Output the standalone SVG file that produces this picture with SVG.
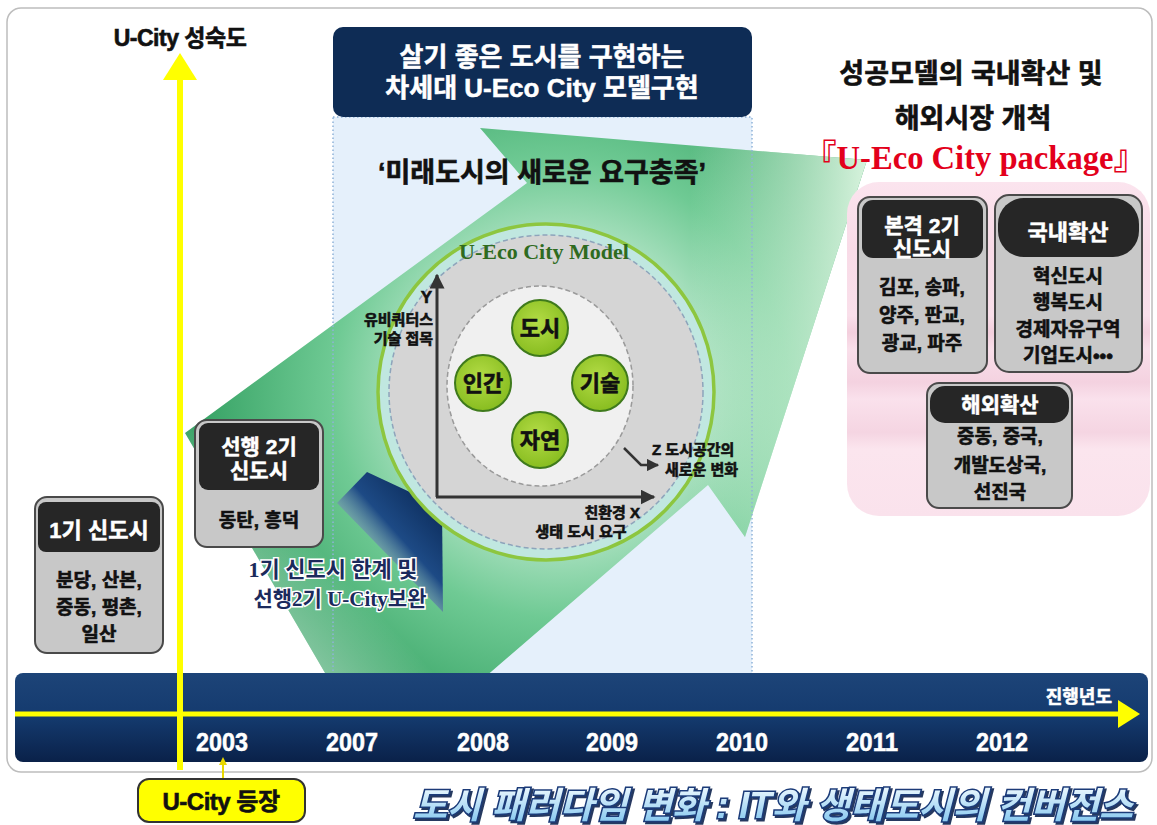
<svg xmlns="http://www.w3.org/2000/svg" width="1157" height="825" viewBox="0 0 1157 825">
<style>
.k{font-family:"Liberation Sans","Noto Sans CJK KR",sans-serif;font-weight:700}
.s{font-family:"Liberation Serif","Noto Sans CJK KR",serif;font-weight:700}
.w{fill:#fff;stroke:#fff;stroke-width:0.5}
.b{fill:#111;stroke:#111;stroke-width:0.6}
.box{fill:#c8c8c8;stroke:#4a4a4a;stroke-width:2}
.hdr{fill:#262626}
.gc{fill:url(#gcg);stroke:#3f7a1c;stroke-width:2}
.ax{stroke:#333;stroke-width:3;fill:none}
</style>
<defs>
<radialGradient id="grn" gradientUnits="userSpaceOnUse" cx="560" cy="390" r="380">
<stop offset="0" stop-color="#e6f7ec"/>
<stop offset="0.35" stop-color="#b8e6ca"/>
<stop offset="0.6" stop-color="#6fca94"/>
<stop offset="1" stop-color="#2f9d5e"/>
</radialGradient>
<linearGradient id="grn2" gradientUnits="userSpaceOnUse" x1="690" y1="150" x2="870" y2="150">
<stop offset="0" stop-color="#e3f9e6" stop-opacity="0"/>
<stop offset="1" stop-color="#e3f9e6" stop-opacity="0.95"/>
</linearGradient>
<linearGradient id="grn3" gradientUnits="userSpaceOnUse" x1="190" y1="690" x2="330" y2="560">
<stop offset="0" stop-color="#ffffff" stop-opacity="0.9"/>
<stop offset="1" stop-color="#ffffff" stop-opacity="0"/>
</linearGradient>
<linearGradient id="navy" gradientUnits="userSpaceOnUse" x1="350" y1="580" x2="440" y2="500">
<stop offset="0" stop-color="#ffffff" stop-opacity="0"/>
<stop offset="0.55" stop-color="#1d4a85"/>
<stop offset="1" stop-color="#0b2a58"/>
</linearGradient>
<linearGradient id="band" x1="0" y1="0" x2="0" y2="1">
<stop offset="0" stop-color="#1d4478"/>
<stop offset="0.5" stop-color="#143a6e"/>
<stop offset="1" stop-color="#0a2149"/>
</linearGradient>
<linearGradient id="pink" x1="0" y1="0" x2="0" y2="1">
<stop offset="0" stop-color="#fbe4ee"/>
<stop offset="0.2" stop-color="#f8dbe7"/>
<stop offset="0.4" stop-color="#f9dfea"/>
<stop offset="0.45" stop-color="#f3cfdd"/>
<stop offset="0.5" stop-color="#f9dfea"/>
<stop offset="0.6" stop-color="#f4d2e0"/>
<stop offset="0.65" stop-color="#fae1ec"/>
<stop offset="0.75" stop-color="#f5d5e2"/>
<stop offset="0.8" stop-color="#fbe5ee"/>
<stop offset="1" stop-color="#fae2ec"/>
</linearGradient>
<radialGradient id="gcg" cx="0.45" cy="0.4" r="0.6">
<stop offset="0" stop-color="#b4dc46"/>
<stop offset="1" stop-color="#88bd20"/>
</radialGradient>
<linearGradient id="ttl" x1="0" y1="0" x2="0" y2="1">
<stop offset="0" stop-color="#f2fbff"/>
<stop offset="1" stop-color="#7cc3ee"/>
</linearGradient>
<filter id="sh" x="-5%" y="-20%" width="110%" height="150%">
<feDropShadow dx="2" dy="2" stdDeviation="0.6" flood-color="#0d2450" flood-opacity="0.9"/>
</filter>
<marker id="ah" viewBox="0 0 10 10" refX="9" refY="5" markerWidth="5" markerHeight="5" orient="auto">
<path d="M0,0 L10,5 L0,10 Z" fill="#333"/>
</marker>
</defs>

<!-- frame -->
<rect x="7" y="8" width="1145" height="764" rx="14" fill="#fff" stroke="#bdbdbd" stroke-width="1.5"/>

<!-- center column background -->
<rect x="333" y="117" width="419" height="560" fill="#e5f0fb"/>

<!-- big green arrow -->
<g id="green-arrow">
<path d="M480,128 L867,160 L745,537 L708,485 L470,690 L335,690 L185,433 L527,183 Z" fill="url(#grn)"/>
<path d="M480,128 L867,160 L745,537 L708,485 L470,690 L335,690 L185,433 L527,183 Z" fill="url(#grn2)"/>
<path d="M480,128 L867,160 L745,537 L708,485 L470,690 L335,690 L185,433 L527,183 Z" fill="url(#grn3)"/>
</g>

<rect x="333" y="117" width="419" height="560" fill="none" stroke="#8fb3d9" stroke-width="1.5" stroke-dasharray="1.5 2.5"/>

<!-- header -->
<g id="header">
<rect x="333" y="27" width="419" height="90" rx="10" fill="#0e2c55"/>
<text class="k w" x="542" y="66" font-size="26" text-anchor="middle">살기 좋은 도시를 구현하는</text>
<text class="k w" x="542" y="97" font-size="26" text-anchor="middle">차세대 U-Eco City 모델구현</text>
</g>

<text class="k b" x="542" y="182" font-size="27" text-anchor="middle">‘미래도시의 새로운 요구충족’</text>

<!-- navy arrow -->
<path d="M367,472 L442,507 L443,612 L337,503 Z" fill="url(#navy)"/>

<!-- U-Eco City model -->
<g id="model">
<circle cx="546" cy="392" r="168" fill="#c0e7e0" stroke="#8dc63f" stroke-width="3.5"/>
<circle cx="546" cy="392" r="157" fill="#d5d5d5" stroke="#8ea4bb" stroke-width="1.5" stroke-dasharray="5 3"/>
<ellipse cx="540" cy="386" rx="93" ry="100" fill="#f0f0f0" stroke="#9a9a9a" stroke-width="1.5" stroke-dasharray="5 3"/>
<text class="s" x="544" y="259" font-size="22" fill="#2f6b1f" text-anchor="middle">U-Eco City Model</text>
<line class="ax" x1="437" y1="497" x2="437" y2="275" marker-end="url(#ah)"/>
<line class="ax" x1="436" y1="497" x2="654" y2="497" marker-end="url(#ah)"/>
<text class="k b" x="432" y="303" font-size="17" text-anchor="end">Y</text>
<text class="k b" x="433" y="325" font-size="15" text-anchor="end">유비쿼터스</text>
<text class="k b" x="433" y="344" font-size="15" text-anchor="end">기술 접목</text>
<text class="k b" x="640" y="518" font-size="15" text-anchor="end">친환경 X</text>
<text class="k b" x="581" y="537" font-size="15" text-anchor="middle">생태 도시 요구</text>
<polyline points="624,448 641,465 658,465" fill="none" stroke="#333" stroke-width="2.5" marker-end="url(#ah)"/>
<text class="k b" x="652" y="455" font-size="15">Z 도시공간의</text>
<text class="k b" x="665" y="475" font-size="15">새로운 변화</text>
</g>
<g id="n-city"><circle class="gc" cx="540" cy="328" r="28"/><text class="k b" x="540" y="336" font-size="22" text-anchor="middle">도시</text></g>
<g id="n-human"><circle class="gc" cx="483" cy="383" r="28"/><text class="k b" x="483" y="391" font-size="22" text-anchor="middle">인간</text></g>
<g id="n-tech"><circle class="gc" cx="600" cy="383" r="28"/><text class="k b" x="600" y="391" font-size="22" text-anchor="middle">기술</text></g>
<g id="n-nature"><circle class="gc" cx="540" cy="440" r="28"/><text class="k b" x="540" y="448" font-size="22" text-anchor="middle">자연</text></g>

<text class="s" x="333" y="577" font-size="22" fill="#1b2a5c" stroke="#fff" stroke-width="3" paint-order="stroke" text-anchor="middle">1기 신도시 한계 및</text>
<text class="s" x="340" y="606" font-size="21" fill="#1b2a5c" stroke="#fff" stroke-width="3" paint-order="stroke" text-anchor="middle">선행2기 U-City보완</text>

<!-- right side -->
<g id="right-title">
<text class="k b" x="971" y="83" font-size="27" text-anchor="middle">성공모델의 국내확산 및</text>
<text class="k b" x="973" y="128" font-size="27" text-anchor="middle">해외시장 개척</text>
<text class="s" x="975" y="169" font-size="34" fill="#e3001b" text-anchor="middle" textLength="342" lengthAdjust="spacingAndGlyphs">『U-Eco City package』</text>
</g>
<rect x="847" y="182" width="303" height="334" rx="32" fill="url(#pink)"/>

<g id="box-bon">
<rect class="box" x="858" y="197" width="129" height="176" rx="12"/>
<rect class="hdr" x="862" y="200" width="121" height="58" rx="11"/>
<text class="k w" x="922" y="233" font-size="21" text-anchor="middle">본격 2기</text>
<text class="k w" x="922" y="256" font-size="21" text-anchor="middle">신도시</text>
<text class="k b" x="922" y="294" font-size="19" text-anchor="middle">김포, 송파,</text>
<text class="k b" x="922" y="322" font-size="19" text-anchor="middle">양주, 판교,</text>
<text class="k b" x="922" y="350" font-size="19" text-anchor="middle">광교, 파주</text>
</g>

<g id="box-domestic">
<rect class="box" x="995" y="195" width="147" height="177" rx="14"/>
<rect class="hdr" x="998" y="198" width="141" height="59" rx="26"/>
<text class="k w" x="1068" y="240" font-size="22" text-anchor="middle">국내확산</text>
<text class="k b" x="1068" y="283" font-size="19" text-anchor="middle">혁신도시</text>
<text class="k b" x="1068" y="309" font-size="19" text-anchor="middle">행복도시</text>
<text class="k b" x="1068" y="336" font-size="19" text-anchor="middle">경제자유구역</text>
<text class="k b" x="1068" y="362" font-size="19" text-anchor="middle">기업도시•••</text>
</g>

<g id="box-overseas">
<rect class="box" x="927" y="383" width="145" height="125" rx="12"/>
<rect class="hdr" x="930" y="386" width="139" height="37" rx="15"/>
<text class="k w" x="1000" y="412" font-size="21" text-anchor="middle">해외확산</text>
<text class="k b" x="1000" y="443" font-size="19" text-anchor="middle">중동, 중국,</text>
<text class="k b" x="1000" y="472" font-size="19" text-anchor="middle">개발도상국,</text>
<text class="k b" x="1000" y="499" font-size="19" text-anchor="middle">선진국</text>
</g>

<!-- left boxes -->
<g id="box-first">
<rect class="box" x="35" y="497" width="128" height="156" rx="12"/>
<rect class="hdr" x="38" y="502" width="122" height="50" rx="8"/>
<text class="k w" x="99" y="538" font-size="22" text-anchor="middle">1기 신도시</text>
<text class="k b" x="99" y="587" font-size="19" text-anchor="middle">분당, 산본,</text>
<text class="k b" x="99" y="614" font-size="19" text-anchor="middle">중동, 평촌,</text>
<text class="k b" x="99" y="641" font-size="19" text-anchor="middle">일산</text>
</g>

<g id="box-lead">
<rect class="box" x="195" y="420" width="128" height="127" rx="12"/>
<rect class="hdr" x="199" y="423" width="120" height="67" rx="9"/>
<text class="k w" x="259" y="454" font-size="21" text-anchor="middle">선행 2기</text>
<text class="k w" x="259" y="478" font-size="21" text-anchor="middle">신도시</text>
<text class="k b" x="259" y="527" font-size="19" text-anchor="middle">동탄, 흥덕</text>
</g>

<!-- timeline -->
<g id="timeline">
<rect x="15" y="673" width="1133" height="89" rx="8" fill="url(#band)"/>
<text class="k w" x="1112" y="703" font-size="18" text-anchor="end">진행년도</text>
<g class="k w" font-size="25" text-anchor="middle">
<text x="222" y="751" textLength="52" lengthAdjust="spacingAndGlyphs">2003</text>
<text x="352" y="751" textLength="52" lengthAdjust="spacingAndGlyphs">2007</text>
<text x="483" y="751" textLength="52" lengthAdjust="spacingAndGlyphs">2008</text>
<text x="612" y="751" textLength="52" lengthAdjust="spacingAndGlyphs">2009</text>
<text x="742" y="751" textLength="52" lengthAdjust="spacingAndGlyphs">2010</text>
<text x="872" y="751" textLength="52" lengthAdjust="spacingAndGlyphs">2011</text>
<text x="1002" y="751" textLength="52" lengthAdjust="spacingAndGlyphs">2012</text>
</g>
</g>

<!-- connectors -->
<g id="connectors">
<rect x="177" y="78" width="6" height="692" fill="#ffff00"/>
<polygon points="180,53 197,80 163,80" fill="#ffff00"/>
<rect x="15" y="711.5" width="1105" height="5" fill="#ffff00"/>
<polygon points="1140,714 1118,700 1118,728" fill="#ffff00"/>
<line x1="223" y1="780" x2="223" y2="763" stroke="#e8d800" stroke-width="2"/>
<polygon points="223,757 219,765 227,765" fill="#e8d800"/>
</g>

<text class="k b" x="180" y="46" font-size="23" text-anchor="middle" letter-spacing="-0.5">U-City 성숙도</text>

<g id="ucity-appear">
<rect x="138" y="779" width="167" height="43" rx="11" fill="#ffff00" stroke="#333" stroke-width="2"/>
<text class="k b" x="221" y="810" font-size="24" text-anchor="middle" letter-spacing="-0.5">U-City 등장</text>
</g>

<text class="k" x="773" y="818" font-size="36" font-style="italic" fill="url(#ttl)" stroke="#1a3a78" stroke-width="3" paint-order="stroke" textLength="720" lengthAdjust="spacingAndGlyphs" text-anchor="middle" filter="url(#sh)">도시 패러다임 변화 : IT와 생태도시의 컨버전스</text>
</svg>
